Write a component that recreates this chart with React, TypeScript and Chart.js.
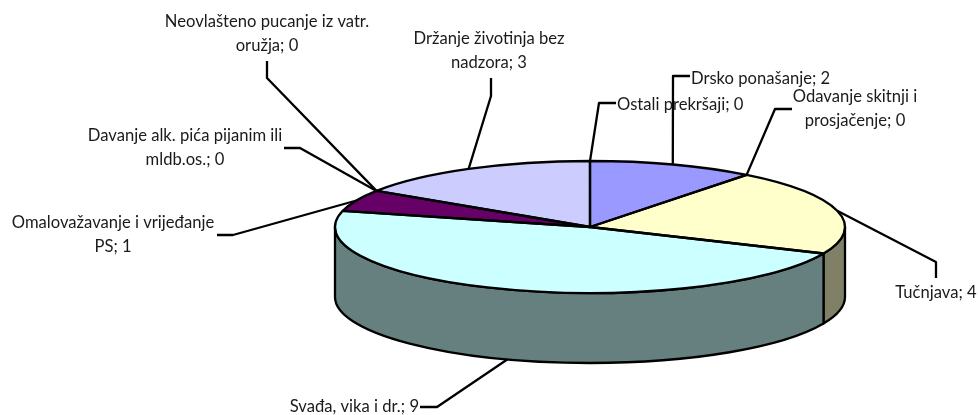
import React, { useEffect, useRef } from "react";
import { Chart, registerables } from "chart.js";

Chart.register(...registerables);

const categories = [
  ["Ostali prekršaji"],
  ["Drsko ponašanje"],
  ["Odavanje skitnji i", "prosjačenje"],
  ["Tučnjava"],
  ["Svađa, vika i dr."],
  ["Omalovažavanje i vrijeđanje", "PS"],
  ["Davanje alk. pića pijanim ili", "mldb.os."],
  ["Neovlašteno pucanje iz vatr.", "oružja"],
  ["Držanje životinja bez", "nadzora"],
];
const values = [0, 2, 0, 4, 9, 1, 0, 0, 3];
const colors = ["#9999FF", "#9999FF", "#FFFFCC", "#FFFFCC", "#CCFFFF", "#660066", "#660066", "#CCCCFF", "#CCCCFF"];
const wallColors = ["#4D4D80", "#4D4D80", "#808066", "#808066", "#668080", "#330033", "#330033", "#666680", "#666680"];

// Leader layout: knee, tail end, text anchor, alignment
const leaderLayout = [
  { knee: [599, 103], end: [616, 103], text: [617, 105], align: "left" },
  { knee: [673, 76], end: [690, 76], text: [691, 79], align: "left" },
  { knee: [775, 109], end: [792, 109], text: [855, 97], align: "center" },
  { knee: [936, 262], end: [936, 278], text: [936, 293], align: "center" },
  { knee: [437, 407], end: [420, 407], text: [419, 407], align: "right" },
  { knee: [233, 235], end: [217, 235], text: [113, 223], align: "center" },
  { knee: [300, 148], end: [284, 148], text: [185, 136], align: "center" },
  { knee: [267, 78], end: [267, 61], text: [267, 22], align: "center" },
  { knee: [491, 96], end: [491, 78], text: [489, 39], align: "center" },
];

const CX = 590;
const CY = 227;
const RX = 255;
const RY = 66;
const DEPTH = 70;
const LINE_H = 24;
const STROKE = 2.3;

const pie3d = {
  id: "pie3d",
  beforeDatasetsDraw(chart: any) {
    const { ctx } = chart;
    const arcs = chart.getDatasetMeta(0).data;
    ctx.save();
    ctx.lineWidth = STROKE;
    ctx.lineJoin = "round";
    ctx.strokeStyle = "#000";
    arcs.forEach((el: any, i: number) => {
      const lo = Math.max(el.startAngle, 0);
      const hi = Math.min(el.endAngle, Math.PI);
      if (hi <= lo) return;
      ctx.beginPath();
      ctx.ellipse(CX, CY, RX, RY, 0, lo, hi);
      ctx.ellipse(CX, CY + DEPTH, RX, RY, 0, hi, lo, true);
      ctx.closePath();
      ctx.fillStyle = wallColors[i];
      ctx.fill();
      ctx.stroke();
    });
    ctx.restore();
    const first = arcs[0];
    const r = first.outerRadius;
    ctx.save();
    ctx.translate(CX, CY);
    ctx.scale(RX / r, RY / r);
    ctx.translate(-first.x, -first.y);
  },
  afterDatasetsDraw(chart: any) {
    const { ctx } = chart;
    ctx.restore();
    const arcs = chart.getDatasetMeta(0).data;
    ctx.save();
    ctx.lineWidth = STROKE;
    ctx.lineJoin = "round";
    ctx.strokeStyle = "#000";
    arcs.forEach((el: any) => {
      if (el.endAngle - el.startAngle <= 0) return;
      ctx.beginPath();
      ctx.moveTo(CX, CY);
      ctx.ellipse(CX, CY, RX, RY, 0, el.startAngle, el.endAngle);
      ctx.closePath();
      ctx.stroke();
    });
    // leaders
    arcs.forEach((el: any, i: number) => {
      const mid = (el.startAngle + el.endAngle) / 2;
      const sx = CX + RX * Math.cos(mid);
      let sy = CY + RY * Math.sin(mid);
      if (Math.sin(mid) > 0 && values[i] > 0 && mid > Math.PI / 2) sy += DEPTH;
      const l = leaderLayout[i];
      ctx.beginPath();
      ctx.moveTo(sx, sy);
      ctx.lineTo(l.knee[0], l.knee[1]);
      ctx.lineTo(l.end[0], l.end[1]);
      ctx.stroke();
    });
    // labels
    ctx.fillStyle = "#1a1a1a";
    ctx.font = '16.6px Lato, sans-serif';
    ctx.textBaseline = "middle";
    arcs.forEach((_: any, i: number) => {
      const l = leaderLayout[i];
      const lines = categories[i].slice();
      lines[lines.length - 1] += "; " + values[i];
      ctx.textAlign = l.align;
      lines.forEach((t: string, k: number) => {
        ctx.fillText(t, l.text[0], l.text[1] + k * LINE_H);
      });
    });
    ctx.restore();
  },
};

export default function App() {
  const ref = useRef<HTMLCanvasElement>(null);
  useEffect(() => {
    const chart = new Chart(ref.current!, {
      type: "pie",
      data: {
        labels: categories.map((c) => c.join(" ")),
        datasets: [{ data: values, backgroundColor: colors, borderWidth: 0 }],
      },
      options: {
        animation: false,
        responsive: false,
        plugins: { legend: { display: false }, tooltip: { enabled: false } },
      },
      plugins: [pie3d],
    } as any);
    return () => chart.destroy();
  }, []);
  return (
    <canvas
      ref={ref}
      width={978}
      height={415}
      style={{ position: "fixed", left: 0, top: 0, display: "block", background: "#fff" }}
    />
  );
}
